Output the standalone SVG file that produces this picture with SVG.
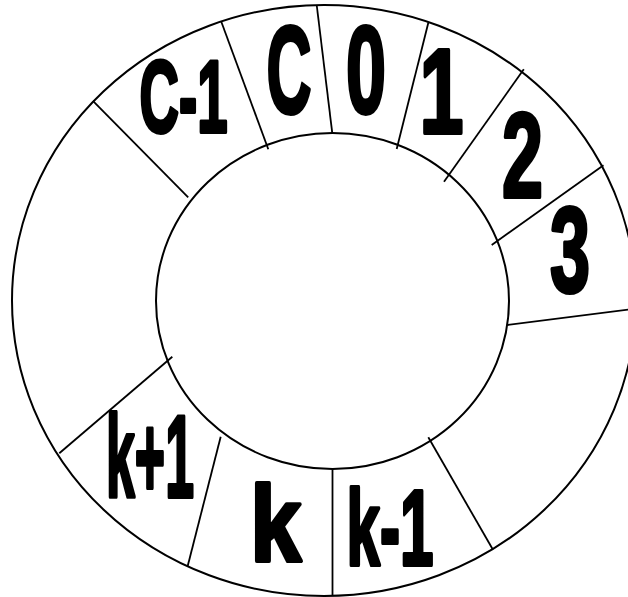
<svg xmlns="http://www.w3.org/2000/svg" width="628" height="597" viewBox="0 0 628 597">
  <style>
    .ring { fill: none; stroke: #000; stroke-width: 2; }
    .div { stroke: #000; stroke-width: 1.8; fill: none; }
    .lbl { font-family: "Liberation Sans", Arial, sans-serif; font-weight: bold; fill: #000; stroke: #000; stroke-width: 4; stroke-linejoin: round; text-anchor: middle; }
  </style>
  <rect width="628" height="597" fill="#fff"/>
  <g id="ring">
    <ellipse class="ring" cx="324" cy="300.5" rx="312" ry="295.5"/>
    <ellipse class="ring" cx="332.5" cy="301" rx="176.5" ry="168"/>
  </g>
  <g id="dividers">
    <line class="div" x1="92.9" y1="100.9" x2="188.2" y2="197.3"/>
    <line class="div" x1="221.3" y1="21.7" x2="268.3" y2="149.3"/>
    <line class="div" x1="316.7" y1="5" x2="332.3" y2="133.3"/>
    <line class="div" x1="428.3" y1="22.7" x2="396.7" y2="149"/>
    <line class="div" x1="523.8" y1="69.3" x2="444" y2="181.7"/>
    <line class="div" x1="603.5" y1="165.3" x2="491.7" y2="245"/>
    <line class="div" x1="507.3" y1="325" x2="640" y2="308"/>
    <line class="div" x1="428.3" y1="437.3" x2="492.7" y2="549.3"/>
    <line class="div" x1="332.5" y1="469" x2="332.5" y2="596"/>
    <line class="div" x1="220.7" y1="436.7" x2="187.7" y2="566"/>
    <line class="div" x1="172.3" y1="356.7" x2="59.3" y2="453.2"/>
  </g>
  <g id="seg-c-1"><text class="lbl" x="183.5" y="132" font-size="102" textLength="88" lengthAdjust="spacingAndGlyphs">C-1</text></g>
  <g id="seg-c"><text class="lbl" x="289" y="112.5" font-size="124" textLength="45" lengthAdjust="spacingAndGlyphs">C</text></g>
  <g id="seg-0"><text class="lbl" x="366" y="113" font-size="124" textLength="40" lengthAdjust="spacingAndGlyphs">0</text></g>
  <g id="seg-1"><text class="lbl" x="441.5" y="133" font-size="120" textLength="44" lengthAdjust="spacingAndGlyphs">1</text></g>
  <g id="seg-2"><text class="lbl" x="522.6" y="197" font-size="120" textLength="41" lengthAdjust="spacingAndGlyphs">2</text></g>
  <g id="seg-3"><text class="lbl" x="570" y="292" font-size="120" textLength="40" lengthAdjust="spacingAndGlyphs">3</text></g>
  <g id="seg-k+1"><text class="lbl" x="150" y="497" font-size="116" textLength="88" lengthAdjust="spacingAndGlyphs">k+1</text></g>
  <g id="seg-k"><text class="lbl" x="275.7" y="561" font-size="108" textLength="51" lengthAdjust="spacingAndGlyphs">k</text></g>
  <g id="seg-k-1"><text class="lbl" x="390" y="565" font-size="108" textLength="87" lengthAdjust="spacingAndGlyphs">k-1</text></g>
</svg>
